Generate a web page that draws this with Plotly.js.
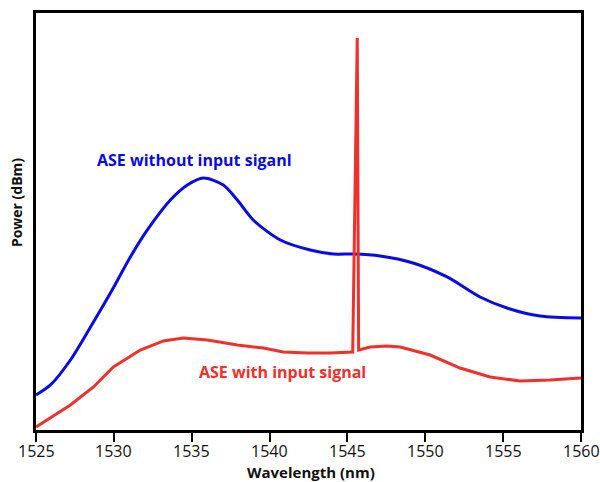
<!DOCTYPE html>
<html>
<head>
<meta charset="utf-8">
<script src="https://cdn.plot.ly/plotly-3.0.1.min.js"></script>
<style>html,body{margin:0;padding:0;background:#fff;}#chart{width:600px;height:482px;}</style>
</head>
<body>
<div id="chart"></div>
<script>
// Wavelength (nm) and power (dBm, relative scale; axis unlabeled)
const blueWavelength = [1525, 1525.93, 1527.21, 1528.50, 1529.78, 1531.06, 1532.15, 1533.63, 1534.72, 1535.75, 1537.03, 1537.93, 1538.95, 1540.69, 1542.61, 1544.09, 1545.37, 1547.10, 1549.22, 1551.40, 1553.52, 1555.25, 1557.37, 1560];
const bluePower = [-54.96, -53.52, -49.93, -45.18, -40.29, -35.11, -31.22, -26.91, -24.75, -23.74, -24.75, -26.91, -29.78, -32.66, -34.10, -34.68, -34.68, -34.96, -35.97, -37.98, -40.86, -42.45, -43.60, -43.88];

const redWavelength = [1525, 1525.93, 1527.21, 1528.69, 1529.97, 1531.70, 1533.18, 1534.46, 1536.00, 1537.93, 1539.60, 1540.88, 1542.42, 1543.90, 1545.34, 1545.63, 1545.72, 1546.46, 1547.55, 1548.39, 1550.31, 1552.24, 1554.16, 1556.09, 1558.01, 1560];
const redPower = [-59.57, -58.27, -56.40, -53.81, -50.93, -48.49, -47.19, -46.76, -47.05, -47.77, -48.20, -48.78, -48.92, -48.92, -48.78, -3.60, -48.49, -48.06, -47.91, -48.06, -49.21, -51.08, -52.37, -52.95, -52.81, -52.52];

const xTicks = [1525, 1530, 1535, 1540, 1545, 1550, 1555, 1560];
const xTickLabels = ['1525', '1530', '1535', '1540', '1545', '1550', '1555', '1560'];

const traces = [
  {x: blueWavelength, y: bluePower, mode: 'lines', line: {color: '#0a0ae6', width: 3, shape: 'spline', smoothing: 0.8}, name: 'ASE without input siganl'},
  {x: redWavelength, y: redPower, mode: 'lines', line: {color: '#f0302a', width: 3}, name: 'ASE with input signal'}
];

const tickAnnotations = xTicks.map((v, i) => ({
  text: xTickLabels[i], xref: 'x', yref: 'paper', x: v, y: -0.05,
  showarrow: false, xanchor: 'center', yanchor: 'middle',
  font: {size: 16, color: '#111', family: 'Open Sans, sans-serif'}
}));

const layout = {
  width: 600, height: 482,
  margin: {l: 36, r: 19, t: 13, b: 52},
  paper_bgcolor: '#fff', plot_bgcolor: '#fff',
  showlegend: false,
  font: {family: 'Open Sans, sans-serif', color: '#111'},
  xaxis: {
    range: [1525, 1560], tickvals: xTicks,
    showgrid: false, zeroline: false, showline: true, linecolor: '#000', linewidth: 3, mirror: true,
    ticks: 'outside', ticklen: 9, tickwidth: 2, tickcolor: '#000',
    showticklabels: false
  },
  yaxis: {
    range: [-60, 0], showgrid: false, zeroline: false, showline: true, linecolor: '#000', linewidth: 3, mirror: true,
    ticks: '', showticklabels: false
  },
  annotations: tickAnnotations.concat([
    {text: '<b>Wavelength (nm)</b>', xref: 'paper', yref: 'paper', x: 0.505, y: -0.1, showarrow: false, xanchor: 'center', yanchor: 'middle', font: {size: 15, color: '#111'}},
    {text: '<b>Power (dBm)</b>', xref: 'paper', yref: 'paper', x: -0.036, y: 0.545, textangle: -90, showarrow: false, font: {size: 14, color: '#111'}, xanchor: 'center', yanchor: 'middle'},
    {text: '<b>ASE without input siganl</b>', xref: 'x', yref: 'y', x: 1535.2, y: -21.2, showarrow: false, font: {size: 16, color: '#0a0ae6'}},
    {text: '<b>ASE with input signal</b>', xref: 'x', yref: 'y', x: 1540.8, y: -51.7, showarrow: false, font: {size: 16, color: '#f0302a'}}
  ])
};

Plotly.newPlot('chart', traces, layout, {displayModeBar: false, staticPlot: true});
</script>
</body>
</html>
